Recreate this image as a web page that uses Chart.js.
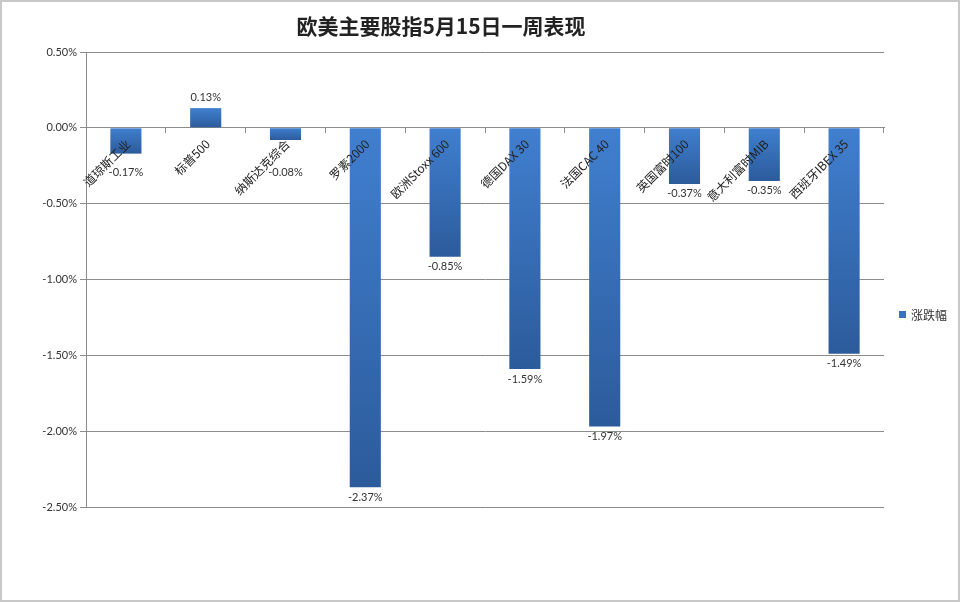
<!DOCTYPE html>
<html>
<head>
<meta charset="utf-8">
<script src="https://cdn.jsdelivr.net/npm/chart.js@4/dist/chart.umd.min.js"></script>
<style>
html,body{margin:0;padding:0;background:#fff;}
#wrap{width:960px;height:602px;position:relative;}
</style>
</head>
<body>
<div id="wrap"><canvas id="c" width="960" height="602"></canvas></div>
<script>
const title = '欧美主要股指5月15日一周表现';
const categories = ['道琼斯工业','标普500','纳斯达克综合','罗素2000','欧洲Stoxx 600','德国DAX 30','法国CAC 40','英国富时100','意大利富时MIB','西班牙IBEX 35'];
const seriesName = '涨跌幅';
const changes = [-0.17, 0.13, -0.08, -2.37, -0.85, -1.59, -1.97, -0.37, -0.35, -1.49];
const yTicks = [0.5, 0, -0.5, -1.0, -1.5, -2.0, -2.5];

const CJK = '"Noto Sans CJK SC", "Noto Sans", sans-serif';
const NUM = 'Lato, "Liberation Sans", sans-serif';
const GRID = '#8c8c8c';

function barGrad(ctx){
  const chart = ctx.chart;
  if (!chart.chartArea || ctx.type !== 'data' || !chart.scales.y) return '#3a72bf';
  const ys = chart.scales.y;
  const v = ctx.raw;
  const top = ys.getPixelForValue(Math.max(v,0));
  const bot = ys.getPixelForValue(Math.min(v,0));
  if (!isFinite(top) || !isFinite(bot) || top === bot) return '#3a72bf';
  const g = chart.ctx.createLinearGradient(0, top, 0, bot);
  g.addColorStop(0, '#407fcf');
  g.addColorStop(1, '#2c5b9b');
  return g;
}

const extras = {
  id: 'extras',
  beforeDraw(chart){
    const c = chart.ctx;
    c.save();
    c.fillStyle = '#fff';
    c.fillRect(0,0,chart.width,chart.height);
    c.restore();
  },
  afterDatasetsDraw(chart){
    const c = chart.ctx;
    const meta = chart.getDatasetMeta(0);
    const xs = chart.scales.x;
    const zero = chart.scales.y.getPixelForValue(0);
    c.save();
    // category labels (drawn over the bars, rotated 45°)
    c.font = '12px ' + CJK;
    c.fillStyle = '#222';
    c.textAlign = 'right';
    c.textBaseline = 'middle';
    categories.forEach((lab, i) => {
      const x = xs.getPixelForValue(i);
      c.save();
      c.translate(x + 2, zero + 14);
      c.rotate(-Math.PI / 4);
      c.fillText(lab, 0, 0);
      c.restore();
    });
    // value labels
    c.font = '11px ' + NUM;
    c.fillStyle = '#333';
    c.textAlign = 'center';
    c.textBaseline = 'middle';
    meta.data.forEach((el, i) => {
      const v = changes[i];
      let ty;
      if (v < 0) ty = Math.max(el.y + 10, zero + 45);
      else ty = el.y - 11;
      c.fillText(v.toFixed(2) + '%', el.x, ty);
    });
    c.restore();
  },
  afterDraw(chart){
    const c = chart.ctx;
    c.save();
    c.font = 'bold 21px ' + CJK;
    c.fillStyle = '#222';
    c.textAlign = 'center';
    c.textBaseline = 'middle';
    c.fillText(title, 441, 26, 300);
    c.fillStyle = '#3a72bf';
    c.fillRect(899, 311, 7, 7);
    c.font = '12px ' + CJK;
    c.fillStyle = '#333';
    c.textAlign = 'left';
    c.fillText(seriesName, 911, 315);
    c.strokeStyle = '#c8c8c8';
    c.lineWidth = 2;
    c.strokeRect(1, 1, chart.width - 2, chart.height - 2);
    c.restore();
  }
};

new Chart(document.getElementById('c'), {
  type: 'bar',
  data: {
    labels: categories,
    datasets: [{
      label: seriesName,
      data: changes,
      backgroundColor: barGrad,
      borderWidth: 0,
      barPercentage: 0.39,
      categoryPercentage: 1.0
    }]
  },
  options: {
    responsive: false,
    animation: false,
    devicePixelRatio: 1,
    layout: { padding: { top: 52, right: 76, bottom: 95, left: 0 } },
    plugins: {
      legend: { display: false },
      title: { display: false },
      tooltip: { enabled: false }
    },
    scales: {
      x: {
        type: 'category',
        position: { y: 0 },
        offset: true,
        afterFit(s){ s.height = 0; },
        grid: { display: true, drawOnChartArea: false, drawTicks: true, tickLength: 5, color: GRID, offset: true },
        border: { display: true, color: GRID, width: 1 },
        ticks: { display: false }
      },
      y: {
        min: -2.5,
        max: 0.5,
        afterFit(s){ s.width = 86; },
        afterBuildTicks(s){ s.ticks = yTicks.map(v => ({ value: v })); },
        grid: { color: GRID, tickLength: 6, lineWidth: 1 },
        border: { display: true, color: GRID, width: 1 },
        ticks: { padding: 3, color: '#333', font: { size: 11, family: NUM }, callback: v => Number(v).toFixed(2) + '%' }
      }
    }
  },
  plugins: [extras]
});
</script>
</body>
</html>
